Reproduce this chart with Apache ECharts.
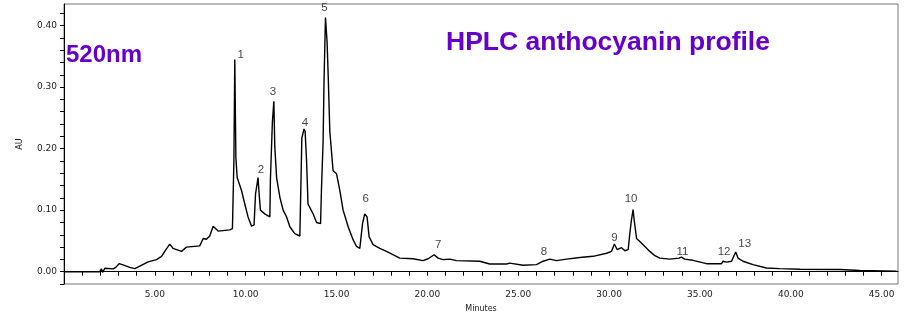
<!DOCTYPE html>
<html>
<head>
<meta charset="utf-8">
<script src="https://cdn.jsdelivr.net/npm/echarts@6/dist/echarts.min.js"></script>
<style>
html, body { margin: 0; padding: 0; background: #fff; }
#container { width: 907px; height: 318px; }
</style>
</head>
<body>
<div id="container"></div>
<script>
// retention time (min) and absorbance (AU)
var times = [0, 1.97, 2.06, 2.12, 2.25, 2.70, 2.85, 3.03, 3.25, 3.62, 3.90, 4.17, 4.63, 5.09, 5.37, 5.60, 5.82, 6.00, 6.47, 6.74,
	7.47, 7.66, 7.84, 8.02, 8.21, 8.48, 9.12, 9.27, 9.35, 9.40, 9.46, 9.53, 9.77, 9.95, 10.13, 10.32, 10.46, 10.54, 10.63, 10.68,
	10.74, 10.81, 11.05, 11.33, 11.36, 11.47, 11.55, 11.60, 11.70, 11.88, 12.06, 12.25, 12.43, 12.70, 12.98, 13.09, 13.21, 13.27, 13.35, 13.43,
	13.71, 13.90, 14.12, 14.17, 14.26, 14.31, 14.39, 14.48, 14.54, 14.63, 14.81, 15.00, 15.18, 15.36, 15.64, 15.91, 16.10, 16.28, 16.43, 16.55,
	16.68, 16.79, 17.01, 17.38, 17.75, 18.48, 19.21, 19.76, 20.04, 20.37, 20.59, 20.86, 21.23, 21.60, 22.88, 23.43, 24.35, 24.53, 25.27, 26.00,
	26.37, 26.74, 27.10, 27.66, 28.39, 29.12, 29.86, 30.13, 30.29, 30.44, 30.68, 30.87, 31.05, 31.14, 31.23, 31.32, 31.38, 31.51, 31.69, 31.97,
	32.24, 32.52, 32.79, 33.34, 33.85, 33.98, 34.16, 34.62, 35.36, 36.19, 36.27, 36.46, 36.74, 36.86, 36.97, 37.10, 37.37, 37.92, 38.66, 39.39,
	40.50, 42.70, 43.80, 45.82];
var absorb = [0, 0, 0.0045, -0.001, 0.0056, 0.0045, 0.007, 0.013, 0.011, 0.007, 0.005, 0.009, 0.016, 0.0195, 0.025, 0.0356, 0.0447, 0.038, 0.033, 0.040,
	0.042, 0.054, 0.0527, 0.058, 0.074, 0.066, 0.068, 0.070, 0.18, 0.345, 0.185, 0.153, 0.132, 0.11, 0.089, 0.074, 0.076, 0.126, 0.126, 0.153,
	0.126, 0.10, 0.094, 0.089, 0.15, 0.244, 0.277, 0.204, 0.153, 0.121, 0.10, 0.089, 0.073, 0.062, 0.058, 0.217, 0.232, 0.228, 0.18, 0.11,
	0.094, 0.080, 0.078, 0.134, 0.212, 0.308, 0.413, 0.373, 0.319, 0.228, 0.164, 0.159, 0.132, 0.10, 0.073, 0.052, 0.041, 0.038, 0.078, 0.094,
	0.089, 0.057, 0.044, 0.038, 0.033, 0.022, 0.021, 0.018, 0.021, 0.0276, 0.022, 0.0196, 0.0205, 0.018, 0.017, 0.0125, 0.0125, 0.014, 0.0104, 0.0115,
	0.017, 0.0205, 0.018, 0.0205, 0.023, 0.025, 0.030, 0.033, 0.045, 0.036, 0.039, 0.034, 0.036, 0.062, 0.084, 0.1008, 0.084, 0.054, 0.049, 0.041,
	0.033, 0.026, 0.022, 0.0205, 0.022, 0.0238, 0.0205, 0.0185, 0.013, 0.013, 0.017, 0.0155, 0.017, 0.025, 0.032, 0.022, 0.017, 0.0115, 0.006, 0.005,
	0.004, 0.0035, 0.002, 0.001];

// numbered peaks
var peakNames = ['1', '2', '3', '4', '5', '6', '7', '8', '9', '10', '11', '12', '13'];
var peakTimes = [9.40, 10.68, 11.55, 13.21, 14.39, 16.55, 20.37, 26.74, 30.29, 31.32, 33.98, 36.27, 36.97];
var peakValues = [0.345, 0.153, 0.277, 0.232, 0.413, 0.094, 0.0276, 0.0205, 0.045, 0.1008, 0.0238, 0.017, 0.032];
// label nudges (px) so the numbers sit where the original put them
var peakLabelOffsets = [[6, -5], [3, -8], [-1, -9], [1, -6], [-1, -10], [1, -15], [4, -10], [-6, -7], [0, -6], [-2, -11], [1, -5], [1, -9], [9, -8]];

var purple = '#6600cc';

var trace = [];
for (var i = 0; i < times.length; i++) {
	trace.push([times[i], absorb[i]]);
}
var peaks = [];
for (var j = 0; j < peakNames.length; j++) {
	peaks.push({
		name: peakNames[j],
		value: [peakTimes[j], peakValues[j]],
		label: { offset: peakLabelOffsets[j] }
	});
}

function isMultiple(v, step) {
	return Math.abs(v - Math.round(v / step) * step) < 1e-6;
}

var myChart = echarts.init(document.getElementById('container'), null, { renderer: 'canvas' });
var option = {
	animation: false,
	backgroundColor: '#fff',
	grid: {
		left: 64, right: 9, top: 4, bottom: 31,
		show: true, borderColor: '#777', borderWidth: 1
	},
	xAxis: {
		type: 'value',
		min: 0, max: 45.9, interval: 1,
		name: 'Minutes', nameLocation: 'middle', nameGap: 21,
		nameTextStyle: { fontFamily: 'DejaVu Sans', fontSize: 8, color: '#222' },
		axisLine: { lineStyle: { color: '#000', width: 1 } },
		axisTick: { length: 4, lineStyle: { color: '#000' } },
		splitLine: { show: false },
		axisLabel: {
			interval: 0, margin: 6, showMaxLabel: false,
			fontFamily: 'DejaVu Sans', fontSize: 9, color: '#222',
			formatter: function (v) { return (v > 0 && isMultiple(v, 5)) ? v.toFixed(2) : ''; }
		}
	},
	yAxis: {
		type: 'value',
		min: -0.02, max: 0.435, interval: 0.02,
		name: 'AU', nameLocation: 'middle', nameGap: 40, nameRotate: 90,
		nameTextStyle: { fontFamily: 'DejaVu Sans', fontSize: 8, color: '#222' },
		axisLine: { lineStyle: { color: '#000', width: 1 } },
		axisTick: { length: 4, lineStyle: { color: '#000' } },
		splitLine: { show: false },
		axisLabel: {
			margin: 7, showMaxLabel: false,
			fontFamily: 'DejaVu Sans', fontSize: 9, color: '#222',
			formatter: function (v) { return (v >= 0 && isMultiple(v, 0.1)) ? v.toFixed(2) : ''; }
		}
	},
	graphic: [
		{
			type: 'text', left: 446, top: 29,
			style: { text: 'HPLC anthocyanin profile', font: 'bold 26.5px "Liberation Sans", Arial, sans-serif', fill: purple }
		},
		{
			type: 'text', left: 66, top: 43,
			style: { text: '520nm', font: 'bold 24px "Liberation Sans", Arial, sans-serif', fill: purple }
		}
	],
	series: [
		{
			type: 'line',
			data: trace,
			showSymbol: false,
			lineStyle: { color: '#000', width: 1.4 },
			silent: true
		},
		{
			type: 'scatter',
			data: peaks,
			symbolSize: 0,
			silent: true,
			label: {
				show: true, position: 'inside',
				formatter: '{b}',
				fontFamily: '"Liberation Sans", Arial, sans-serif', fontSize: 11.5, color: '#111'
			}
		}
	]
};
myChart.setOption(option);
</script>
</body>
</html>
